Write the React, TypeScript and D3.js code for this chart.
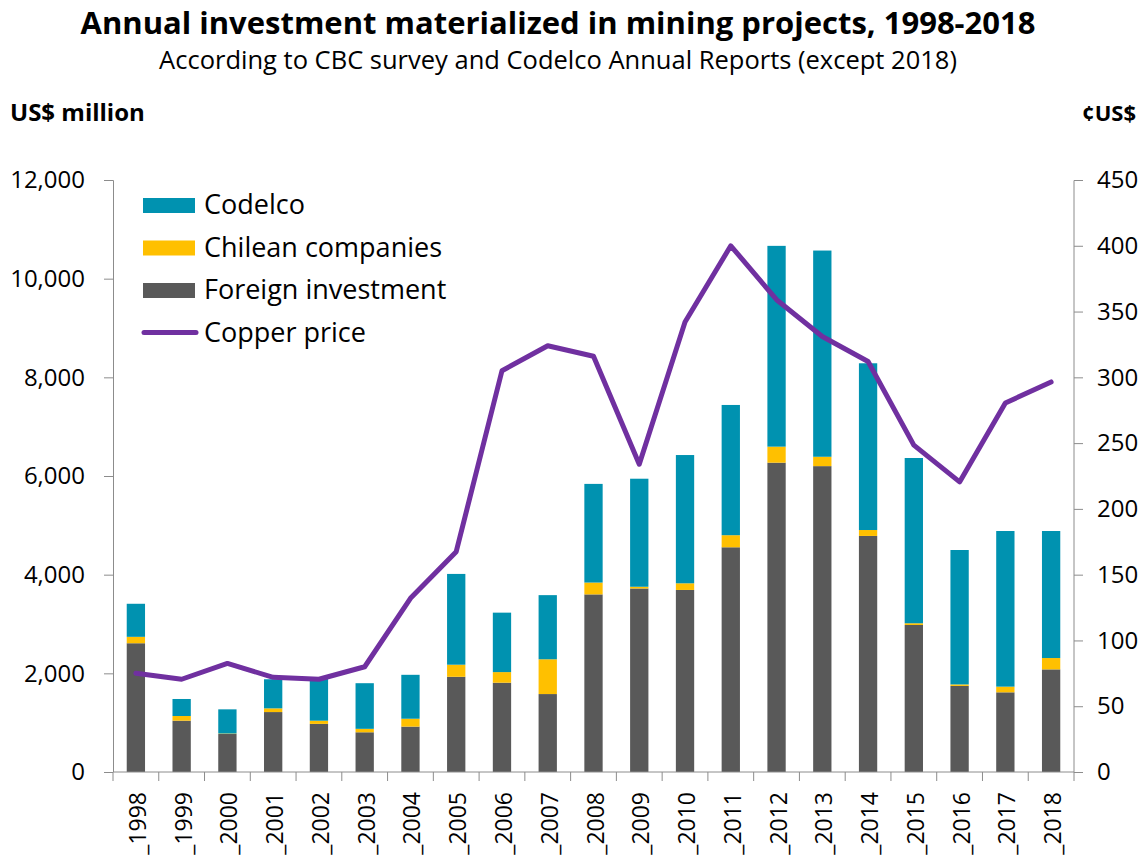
import React, { useEffect, useRef } from 'react';
import * as d3 from 'd3';

const years = ['1998', '1999', '2000', '2001', '2002', '2003', '2004', '2005', '2006', '2007', '2008', '2009', '2010', '2011', '2012', '2013', '2014', '2015', '2016', '2017', '2018'];
const foreign = [2610, 1040, 770, 1215, 975, 805, 920, 1930, 1810, 1580, 3600, 3720, 3690, 4555, 6270, 6200, 4785, 2980, 1745, 1615, 2080];
const chilean = [130, 95, 10, 75, 65, 70, 160, 245, 215, 705, 240, 35, 135, 245, 325, 190, 120, 35, 30, 115, 230];
const codelco = [670, 345, 490, 590, 860, 925, 890, 1840, 1205, 1300, 2000, 2190, 2600, 2640, 4070, 4180, 3380, 3350, 2725, 3155, 2575];
const copper = [75, 70.5, 82.5, 72, 70.5, 80, 132, 167.5, 305, 324, 316, 234, 342, 400, 359, 331, 312, 248.5, 220.5, 280.5, 296.5];

const leftTicks = [0, 2000, 4000, 6000, 8000, 10000, 12000];
const rightTicks = [0, 50, 100, 150, 200, 250, 300, 350, 400, 450];

const seriesKeys = ['foreign', 'chilean', 'codelco'];
const colors: Record<string, string> = { foreign: '#595959', chilean: '#FFC000', codelco: '#0092B0' };
const lineColor = '#7030A0';
const axisColor = '#8c8c8c';
const font = '"Open Sans", sans-serif';

export default function App() {
  const svgRef = useRef<SVGSVGElement>(null);

  useEffect(() => {
    const width = 1146;
    const height = 863;
    const margin = { top: 180, right: 72, bottom: 91, left: 113 };
    const innerW = width - margin.left - margin.right;
    const innerH = height - margin.top - margin.bottom;

    const svg = d3.select(svgRef.current).attr('width', width).attr('height', height);
    svg.selectAll('*').remove();

    const rows = years.map((y, i) => ({ year: y, foreign: foreign[i], chilean: chilean[i], codelco: codelco[i] }));

    const x = d3.scaleBand().domain(years).range([0, innerW]).paddingInner(0.6).paddingOuter(0.3);
    const yL = d3.scaleLinear().domain([0, 12000]).range([innerH, 0]);
    const yR = d3.scaleLinear().domain([0, 450]).range([innerH, 0]);

    // titles
    svg.append('text').attr('x', 558).attr('y', 34).attr('text-anchor', 'middle')
      .style('font-family', font).style('font-weight', 700).style('font-size', '31px')
      .text('Annual investment materialized in mining projects, 1998-2018');
    svg.append('text').attr('x', 558).attr('y', 69).attr('text-anchor', 'middle')
      .style('font-family', font).style('font-size', '25.5px')
      .text('According to CBC survey and Codelco Annual Reports (except 2018)');
    svg.append('text').attr('x', 10).attr('y', 121)
      .style('font-family', font).style('font-weight', 700).style('font-size', '24px')
      .text('US$ million');
    svg.append('text').attr('x', 1136).attr('y', 121).attr('text-anchor', 'end')
      .style('font-family', font).style('font-weight', 700).style('font-size', '22px')
      .text('¢US$');

    const g = svg.append('g').attr('transform', `translate(${margin.left},${margin.top})`);

    // bars
    const stacked = d3.stack<any>().keys(seriesKeys)(rows);
    g.selectAll('g.layer').data(stacked).enter().append('g')
      .attr('fill', d => colors[d.key])
      .selectAll('rect').data(d => d).enter().append('rect')
      .attr('x', d => x(d.data.year) as number)
      .attr('width', x.bandwidth())
      .attr('y', d => yL(d[1]))
      .attr('height', d => yL(d[0]) - yL(d[1]));

    // axes
    const step = x.step();
    const leftAxis = d3.axisLeft(yL).tickValues(leftTicks).tickSize(9).tickPadding(19)
      .tickFormat(d => d3.format(',')(d as number));
    const la = g.append('g').call(leftAxis);
    la.select('.domain').attr('stroke', axisColor).attr('d', `M-9,0.5H0.5V${innerH}`);

    const rightAxis = d3.axisRight(yR).tickValues(rightTicks).tickSize(9).tickPadding(14);
    const ra = g.append('g').attr('transform', `translate(${innerW},0)`).call(rightAxis);
    ra.select('.domain').attr('stroke', axisColor).attr('d', `M9,0.5H0V${innerH}`);

    [la, ra].forEach(a => {
      a.selectAll('.tick line').attr('stroke', axisColor);
      a.selectAll('.tick text').style('font-family', font).style('font-size', '24px').attr('fill', '#000');
    });

    // x axis baseline and boundary ticks
    const xa = g.append('g').attr('transform', `translate(0,${innerH})`);
    xa.append('line').attr('x1', 0).attr('x2', innerW).attr('stroke', axisColor);
    xa.selectAll('line.tk').data(d3.range(years.length + 1)).enter().append('line')
      .attr('x1', i => i * step).attr('x2', i => i * step)
      .attr('y1', 0).attr('y2', 9).attr('stroke', axisColor);
    xa.selectAll('text.lbl').data(years).enter().append('text')
      .attr('transform', d => `translate(${(x(d) as number) + x.bandwidth() / 2 + 10},${20}) rotate(-90)`)
      .attr('text-anchor', 'end')
      .style('font-family', font).style('font-size', '23px')
      .text(d => '_' + d);

    // copper line
    const line = d3.line<number>()
      .x((_, i) => (x(years[i]) as number) + x.bandwidth() / 2)
      .y(d => yR(d));
    g.append('path').datum(copper).attr('d', line).attr('fill', 'none')
      .attr('stroke', lineColor).attr('stroke-width', 5).attr('stroke-linejoin', 'round').attr('stroke-linecap', 'round');

    // legend
    const legend = [
      { label: 'Codelco', color: colors.codelco, type: 'rect' },
      { label: 'Chilean companies', color: colors.chilean, type: 'rect' },
      { label: 'Foreign investment', color: colors.foreign, type: 'rect' },
      { label: 'Copper price', color: lineColor, type: 'line' },
    ];
    const lg = svg.append('g').attr('transform', 'translate(143,205)');
    legend.forEach((l, i) => {
      const row = lg.append('g').attr('transform', `translate(0,${i * 42.5})`);
      if (l.type === 'rect') {
        row.append('rect').attr('x', 0).attr('y', -7).attr('width', 52).attr('height', 15).attr('fill', l.color);
      } else {
        row.append('line').attr('x1', 1).attr('x2', 53).attr('y1', 0).attr('y2', 0)
          .attr('stroke', l.color).attr('stroke-width', 5).attr('stroke-linecap', 'round');
      }
      row.append('text').attr('x', 61).attr('y', 9).style('font-family', font).style('font-size', '27px').text(l.label);
    });
  }, []);

  return <svg ref={svgRef} style={{ display: 'block', position: 'absolute', left: 0, top: 0 }}></svg>;
}
